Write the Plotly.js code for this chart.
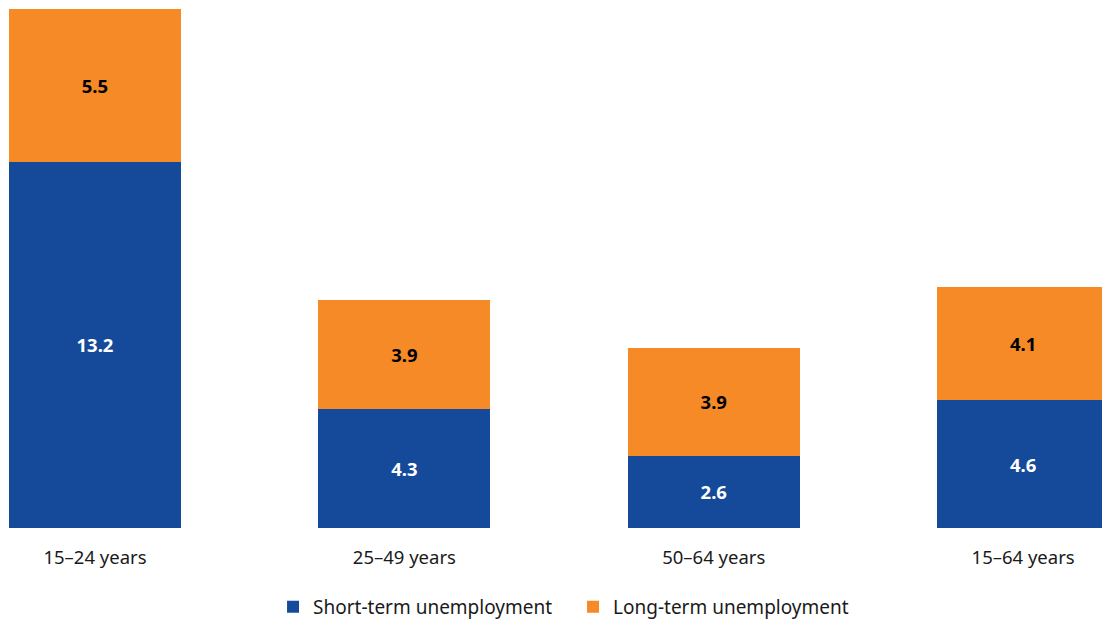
<!DOCTYPE html>
<html><head><meta charset="utf-8">
<script src="https://cdn.plot.ly/plotly-3.0.1.min.js"></script>
<style>html,body{margin:0;padding:0;background:#fff}#chart{width:1102px;height:621px}</style>
</head><body><div id="chart"></div>
<script>
const categories = ["15–24 years", "25–49 years", "50–64 years", "15–64 years"];
const shortTerm = [13.2, 4.3, 2.6, 4.6];
const longTerm = [5.5, 3.9, 3.9, 4.1];
const seriesNames = ["Short-term unemployment", "Long-term unemployment"];

const FONT = "Noto Sans, sans-serif";
const traces = [
  {type: "bar", name: seriesNames[0], x: categories, y: shortTerm,
   marker: {color: "#154A9A"}, text: shortTerm.map(v => "<b>" + v.toFixed(1) + "</b>"),
   textposition: "inside", insidetextanchor: "middle", textangle: 0,
   textfont: {color: "#ffffff", size: 18.5, family: FONT}, hoverinfo: "none"},
  {type: "bar", name: seriesNames[1], x: categories, y: longTerm,
   marker: {color: "#F58A27"}, text: longTerm.map(v => "<b>" + v.toFixed(1) + "</b>"),
   textposition: "inside", insidetextanchor: "middle", textangle: 0,
   textfont: {color: "#000000", size: 18.5, family: FONT}, hoverinfo: "none"}
];
const layout = {
  width: 1102, height: 621,
  barmode: "stack", bargap: 0.444,
  margin: {l: 0, r: 0, t: 9, b: 93, autoexpand: false},
  paper_bgcolor: "#fff", plot_bgcolor: "#fff",
  font: {family: FONT, size: 18.5, color: "#1a1a1a"},
  xaxis: {range: [-0.307, 3.255], showgrid: false, zeroline: false, showline: false,
          ticks: "", ticklabelstandoff: 16, tickfont: {size: 18.5, color: "#1a1a1a"},
          automargin: false},
  yaxis: {range: [0, 18.7], visible: false},
  showlegend: true,
  legend: {orientation: "h", x: 0.52, xanchor: "center", y: -0.152, yanchor: "middle",
           font: {size: 19, color: "#1a1a1a"}, traceorder: "normal",
           entrywidth: 255, entrywidthmode: "pixels"},
  uniformtext: {mode: "show", minsize: 10}
};
Plotly.newPlot("chart", traces, layout, {displayModeBar: false, staticPlot: true});
</script></body></html>
